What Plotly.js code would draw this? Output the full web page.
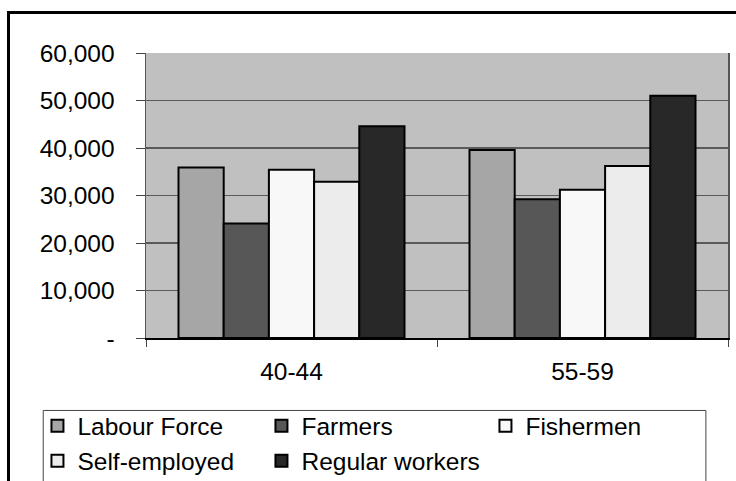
<!DOCTYPE html>
<html>
<head>
<meta charset="utf-8">
<script src="https://cdn.plot.ly/plotly-3.0.1.min.js"></script>
<style>
html,body{margin:0;padding:0;overflow:hidden;background:#fff;}
#wrap{position:relative;width:736px;height:481px;overflow:hidden;}
#chart{width:736px;height:481px;}
#frame{position:absolute;left:7px;top:11px;width:800px;height:600px;border:3px solid #000;pointer-events:none;}
</style>
</head>
<body>
<div id="wrap"><div id="chart"></div><div id="frame"></div></div>
<script>
const categories = ["40-44", "55-59"];
const seriesNames = ["Labour Force", "Farmers", "Fishermen", "Self-employed", "Regular workers"];
const labourForce = [35900, 39600];
const farmers = [24100, 29200];
const fishermen = [35400, 31200];
const selfEmployed = [32900, 36200];
const regularWorkers = [44600, 51000];
const yTickVals = [0, 10000, 20000, 30000, 40000, 50000, 60000];
const yTickText = ["-", "10,000", "20,000", "30,000", "40,000", "50,000", "60,000"];
const seriesColors = ["#a6a6a6", "#575757", "#f8f8f8", "#ececec", "#282828"];

const seriesValues = [labourForce, farmers, fishermen, selfEmployed, regularWorkers];
const traces = seriesNames.map((name, i) => ({
  type: "bar",
  name: name,
  x: categories,
  y: seriesValues[i],
  marker: {color: seriesColors[i], line: {color: "#000", width: 2}},
  hoverinfo: "x+y+name"
}));

const font = {family: "Liberation Sans, Arial, sans-serif", size: 24.5, color: "#000"};
const layout = {
  width: 736, height: 481,
  margin: {l: 146, r: 8.3, t: 53.3, b: 143.3, autoexpand: false},
  paper_bgcolor: "#fff",
  plot_bgcolor: "#c0c0c0",
  font: font,
  barmode: "group",
  bargap: 0.2234,
  bargroupgap: 0,
  showlegend: true,
  xaxis: {
    type: "category", range: [-0.5, 1.5], tickson: "boundaries",
    ticks: "outside", ticklen: 7, tickcolor: "#444", tickwidth: 1,
    showgrid: false, zeroline: false,
    showline: true, linecolor: "#000", linewidth: 1.5,
    ticklabelstandoff: 11, tickfont: font
  },
  yaxis: {
    range: [0, 60000], tickvals: yTickVals, ticktext: yTickText,
    ticks: "outside", ticklen: 9, tickcolor: "#444",
    showgrid: true, gridcolor: "#5a5a5a", gridwidth: 1.2,
    zeroline: false, showline: true, linecolor: "#555", linewidth: 1.5, mirror: true,
    ticklabelstandoff: 16, tickfont: font
  },
  legend: {
    orientation: "h", x: -0.1865, xanchor: "left", y: -0.2296, yanchor: "top",
    bgcolor: "rgba(0,0,0,0)", borderwidth: 0,
    font: font, entrywidth: 179, traceorder: "normal", tracegroupgap: 0
  },
  shapes: [{
    type: "rect", xref: "paper", yref: "paper",
    x0: -0.1766, x1: 0.962, y0: -0.2542, y1: -0.6,
    line: {color: "#444", width: 1}, fillcolor: "rgba(0,0,0,0)", layer: "below"
  }]
};
Plotly.newPlot("chart", traces, layout, {staticPlot: true, displayModeBar: false});
</script>
</body>
</html>
